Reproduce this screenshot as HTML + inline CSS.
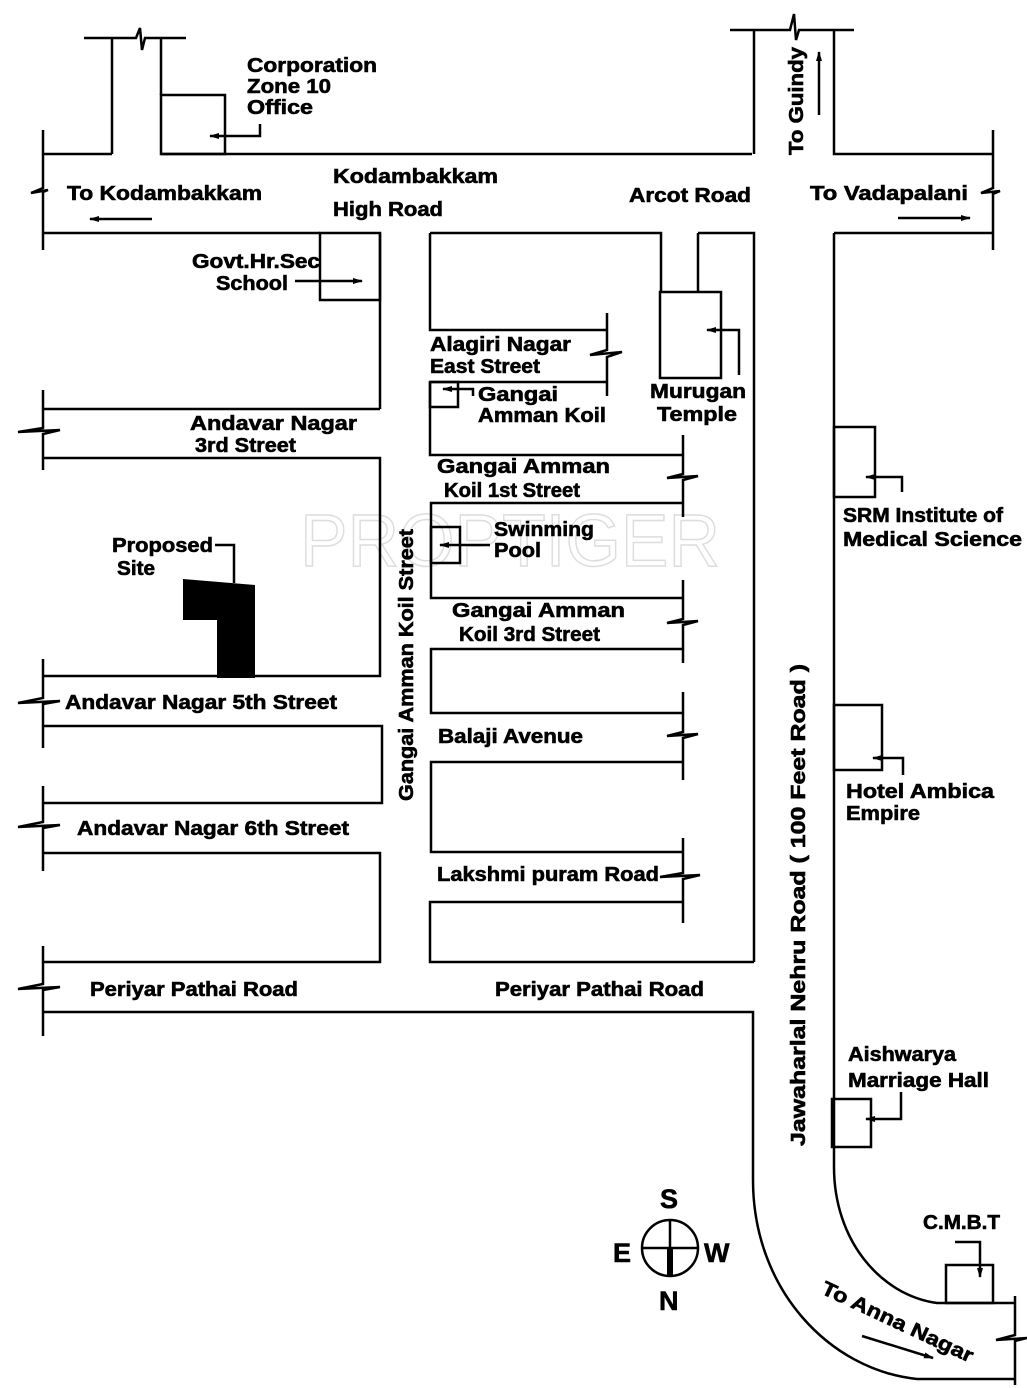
<!DOCTYPE html>
<html><head><meta charset="utf-8"><style>
html,body{margin:0;padding:0;background:#fff;}
svg{display:block;}
text{font-family:"Liberation Sans",sans-serif;font-weight:bold;font-size:20px;fill:#000;stroke:#000;stroke-width:0.6;}
</style></head><body>
<svg width="1027" height="1388" viewBox="0 0 1027 1388" xmlns="http://www.w3.org/2000/svg">
<defs>
<marker id="ah" markerWidth="10" markerHeight="6" refX="9" refY="3" orient="auto" markerUnits="userSpaceOnUse"><path d="M0,0 L10,3 L0,6 z" fill="#000"/></marker>
</defs>
<text x="300" y="566" style="font-size:74px;font-weight:normal;fill:none;stroke:#ddd;stroke-width:1.5" textLength="420" lengthAdjust="spacingAndGlyphs">PROPTIGER</text>
<g fill="none" stroke="#000" stroke-width="2.5">
<path d="M84,38 H136 L140,28 L142,50 L145,38 H186"/>
<path d="M112,38 V154 M161,38 V95"/>
<rect x="161" y="95" width="64" height="59"/>
<path d="M260,124 V136 H210" marker-end="url(#ah)"/>
<path d="M43,130 V188 L31,193 L48,190 L43,192 V250"/>
<path d="M43,154 H112 M161,154 H752"/>
<path d="M43,233 H320 M380,233 V409"/>
<rect x="320" y="233" width="60" height="67"/>
<path d="M295,281 H362" marker-end="url(#ah)"/>
<path d="M152,219 H90" marker-end="url(#ah)"/>
<path d="M43,390 V428 L18,432 L60,430 L43,434 V470"/>
<path d="M43,409 H380"/>
<path d="M43,458 H380 V676 H43"/>
<path d="M43,659 V698 L18,703 L60,701 L43,704 V748"/>
<path d="M43,726 H382 V803 H43"/>
<path d="M43,786 V822 L18,827 L60,825 L43,828 V871"/>
<path d="M43,853 H380 V962 H43"/>
<path d="M43,946 V984 L18,989 L60,987 L43,990 V1036"/>
<path d="M43,1012 H753 V1180 C753,1290 830,1370 917,1379 H1015"/>
<path d="M430,233 H661 V292 M698,233 V292 M698,233 H754 V962"/>
<rect x="660" y="292" width="61" height="86"/>
<path d="M739,375 V330 H707" marker-end="url(#ah)"/>
<path d="M430,233 V330 H607 M607,313 V350 L590,355 L622,352 L607,357 V396 M430,382 H607"/>
<path d="M430,382 V455 H683"/>
<rect x="430" y="382" width="28" height="25"/>
<path d="M473,396 V389 H443" marker-end="url(#ah)"/>
<path d="M683,435 V474 L667,478 L698,476 L683,480 V517"/>
<path d="M683,503 H431 V598 H683"/>
<rect x="431" y="527" width="29" height="36"/>
<path d="M490,545 H440" marker-end="url(#ah)"/>
<path d="M683,580 V619 L667,623 L698,621 L683,625 V663"/>
<path d="M683,649 H431 V713 H683"/>
<path d="M683,692 V732 L667,736 L698,734 L683,738 V780"/>
<path d="M683,762 H431 V852 H683"/>
<path d="M683,838 V873 L660,877 L700,875 L683,879 V923"/>
<path d="M683,902 H430 V962 H754"/>
<path d="M730,30 H790 L794,14 L796,40 L799,30 H854"/>
<path d="M754,30 V154 M834,30 V154 H993"/>
<path d="M993,130 V188 L981,193 L1000,191 L993,194 V250"/>
<path d="M834,233 H993 M834,233 V1167 C834,1240 880,1295 937,1303 H1015"/>
<path d="M1015,1296 V1335 L996,1340 L1027,1338 L1015,1341 V1385"/>
<path d="M819,115 V52" marker-end="url(#ah)"/>
<path d="M898,218 H970" marker-end="url(#ah)"/>
<rect x="834" y="427" width="41" height="70"/>
<path d="M902,492 V477 H866" marker-end="url(#ah)"/>
<rect x="834" y="705" width="48" height="65"/>
<path d="M903,775 V758 H873" marker-end="url(#ah)"/>
<rect x="832" y="1099" width="39" height="48"/>
<path d="M901,1092 V1119 H866" marker-end="url(#ah)"/>
<rect x="946" y="1265" width="47" height="38"/>
<path d="M955,1242 H980 V1277" marker-end="url(#ah)"/>
<path d="M862,1336 L933,1358" marker-end="url(#ah)"/>
<path d="M215,545 H234 V583"/>
<circle cx="670" cy="1248" r="28"/>
<path d="M642,1248 H698 M670,1220 V1276"/>
</g>
<path d="M670,1248 V1276" stroke="#000" stroke-width="6"/>
<path d="M183,579 L255,585 V678 H217 V620 H183 Z" fill="#000"/>
<text x="247" y="72" textLength="130" lengthAdjust="spacingAndGlyphs">Corporation</text>
<text x="247" y="93" textLength="84" lengthAdjust="spacingAndGlyphs">Zone 10</text>
<text x="247" y="114" textLength="66" lengthAdjust="spacingAndGlyphs">Office</text>
<text x="67" y="200" textLength="195" lengthAdjust="spacingAndGlyphs">To Kodambakkam</text>
<text x="333" y="183" textLength="165" lengthAdjust="spacingAndGlyphs">Kodambakkam</text>
<text x="333" y="216" textLength="110" lengthAdjust="spacingAndGlyphs">High Road</text>
<text x="629" y="202" textLength="122" lengthAdjust="spacingAndGlyphs">Arcot Road</text>
<text x="810" y="200" textLength="158" lengthAdjust="spacingAndGlyphs">To Vadapalani</text>
<text transform="translate(803,155) rotate(-90)" textLength="108" lengthAdjust="spacingAndGlyphs">To Guindy</text>
<text x="192" y="268" textLength="128" lengthAdjust="spacingAndGlyphs">Govt.Hr.Sec</text>
<text x="216" y="290" textLength="72" lengthAdjust="spacingAndGlyphs">School</text>
<text x="190" y="430" textLength="167" lengthAdjust="spacingAndGlyphs">Andavar Nagar</text>
<text x="195" y="452" textLength="101" lengthAdjust="spacingAndGlyphs">3rd Street</text>
<text x="430" y="351" textLength="141" lengthAdjust="spacingAndGlyphs">Alagiri Nagar</text>
<text x="430" y="373" textLength="110" lengthAdjust="spacingAndGlyphs">East Street</text>
<text x="478" y="401" textLength="80" lengthAdjust="spacingAndGlyphs">Gangai</text>
<text x="478" y="422" textLength="128" lengthAdjust="spacingAndGlyphs">Amman Koil</text>
<text x="650" y="398" textLength="96" lengthAdjust="spacingAndGlyphs">Murugan</text>
<text x="657" y="421" textLength="80" lengthAdjust="spacingAndGlyphs">Temple</text>
<text x="437" y="473" textLength="173" lengthAdjust="spacingAndGlyphs">Gangai Amman</text>
<text x="444" y="497" textLength="136" lengthAdjust="spacingAndGlyphs">Koil 1st Street</text>
<text x="494" y="536" textLength="100" lengthAdjust="spacingAndGlyphs">Swinming</text>
<text x="494" y="557" textLength="47" lengthAdjust="spacingAndGlyphs">Pool</text>
<text x="452" y="617" textLength="173" lengthAdjust="spacingAndGlyphs">Gangai Amman</text>
<text x="459" y="641" textLength="141" lengthAdjust="spacingAndGlyphs">Koil 3rd Street</text>
<text x="438" y="743" textLength="145" lengthAdjust="spacingAndGlyphs">Balaji Avenue</text>
<text x="437" y="881" textLength="222" lengthAdjust="spacingAndGlyphs">Lakshmi puram Road</text>
<text x="112" y="552" textLength="101" lengthAdjust="spacingAndGlyphs">Proposed</text>
<text x="117" y="575" textLength="38" lengthAdjust="spacingAndGlyphs">Site</text>
<text x="65" y="709" textLength="272" lengthAdjust="spacingAndGlyphs">Andavar Nagar 5th Street</text>
<text x="77" y="835" textLength="272" lengthAdjust="spacingAndGlyphs">Andavar Nagar 6th Street</text>
<text x="90" y="996" textLength="208" lengthAdjust="spacingAndGlyphs">Periyar Pathai Road</text>
<text x="495" y="996" textLength="209" lengthAdjust="spacingAndGlyphs">Periyar Pathai Road</text>
<text transform="translate(413,801) rotate(-90)" textLength="272" lengthAdjust="spacingAndGlyphs">Gangai Amman Koil Street</text>
<text transform="translate(805,1146) rotate(-90)" textLength="482" lengthAdjust="spacingAndGlyphs">Jawaharlal Nehru Road ( 100 Feet Road )</text>
<text x="843" y="522" textLength="160" lengthAdjust="spacingAndGlyphs">SRM Institute of</text>
<text x="843" y="546" textLength="179" lengthAdjust="spacingAndGlyphs">Medical Science</text>
<text x="846" y="798" textLength="148" lengthAdjust="spacingAndGlyphs">Hotel Ambica</text>
<text x="846" y="820" textLength="74" lengthAdjust="spacingAndGlyphs">Empire</text>
<text x="848" y="1061" textLength="108" lengthAdjust="spacingAndGlyphs">Aishwarya</text>
<text x="848" y="1087" textLength="141" lengthAdjust="spacingAndGlyphs">Marriage Hall</text>
<text x="923" y="1229" textLength="77" lengthAdjust="spacingAndGlyphs">C.M.B.T</text>
<text transform="translate(820,1293) rotate(25)" textLength="165" lengthAdjust="spacingAndGlyphs">To Anna Nagar</text>
<text x="660" y="1208" style="font-size:27px">S</text>
<text x="613" y="1262" style="font-size:27px">E</text>
<text x="704" y="1262" style="font-size:27px">W</text>
<text x="659" y="1310" style="font-size:27px">N</text>
</svg>
</body></html>
